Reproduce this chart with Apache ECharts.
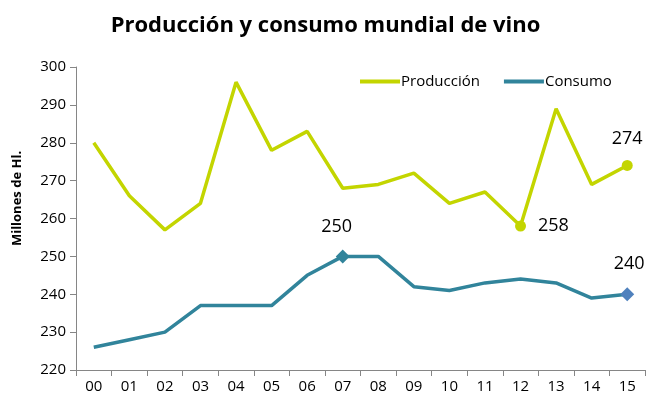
<!DOCTYPE html>
<html>
<head>
<meta charset="utf-8">
<script src="https://cdn.jsdelivr.net/npm/echarts@6/dist/echarts.min.js"></script>
<style>
    html, body { margin: 0; padding: 0; background: #fff; }
    #chart { width: 651px; height: 401px; }
</style>
</head>
<body>
<div id="chart"></div>
<script>
// 数据
var years = ['00', '01', '02', '03', '04', '05', '06', '07', '08', '09', '10', '11', '12', '13', '14', '15'];
var produccion = [280, 266, 257, 264, 296, 278, 283, 268, 269, 272, 264, 267, 258, 289, 269, 274];
var consumo = [226, 228, 230, 237, 237, 237, 245, 250, 250, 242, 241, 243, 244, 243, 239, 240];
var yTicks = [220, 230, 240, 250, 260, 270, 280, 290, 300];

(function() {
    var myChart = echarts.init(document.querySelector("#chart"));
    var font = "'Open Sans', 'Liberation Sans', sans-serif";
    var colProd = '#c3d500';
    var colCons = '#31849b';

    // 标记的点
    var prodMarks = [
        { idx: 12, pos: 'right' },
        { idx: 15, pos: 'top' }
    ];
    var consMarks = [
        { idx: 7, pos: 'top', color: colCons, dx: -6 },
        { idx: 15, pos: 'top', color: '#4f81bd', dx: 2 }
    ];

    var prodData = produccion.map(function(v, i) {
        var m = prodMarks.filter(function(p) { return p.idx === i; })[0];
        if (!m) return v;
        return {
            value: v,
            symbol: 'circle',
            symbolSize: 11,
            itemStyle: { color: colProd },
            label: { show: true, position: m.pos, distance: 12 }
        };
    });
    var consData = consumo.map(function(v, i) {
        var m = consMarks.filter(function(p) { return p.idx === i; })[0];
        if (!m) return v;
        return {
            value: v,
            symbol: 'diamond',
            symbolSize: 14,
            itemStyle: { color: m.color },
            label: { show: true, position: m.pos, distance: 14, offset: [m.dx, 0] }
        };
    });

    var option = {
        animation: false,
        title: {
            text: 'Producción y consumo mundial de vino',
            left: 'center',
            top: 10,
            textStyle: { fontFamily: font, fontSize: 22, fontWeight: 'bold', color: '#000' }
        },
        legend: {
            top: 69,
            left: 355,
            itemWidth: 40,
            itemHeight: 4,
            itemGap: 24,
            icon: 'rect',
            textStyle: { fontFamily: font, fontSize: 15, color: '#000', padding: [0, 0, 0, -4] },
            data: ['Producción', 'Consumo']
        },
        grid: {
            left: 76,
            right: 6,
            top: 67,
            bottom: 31
        },
        xAxis: {
            type: 'category',
            data: years,
            boundaryGap: true,
            axisLine: { lineStyle: { color: '#868686', width: 1 } },
            axisTick: { show: true, length: 6, lineStyle: { color: '#868686' } },
            axisLabel: { fontFamily: font, fontSize: 15, color: '#000', margin: 9 }
        },
        yAxis: {
            type: 'value',
            min: yTicks[0],
            max: yTicks[yTicks.length - 1],
            interval: 10,
            name: 'Millones de Hl.',
            nameLocation: 'middle',
            nameGap: 52,
            nameTextStyle: { fontFamily: font, fontSize: 13, fontWeight: 'bold', color: '#000', padding: [0, 0, 0, 40] },
            axisLine: { show: true, lineStyle: { color: '#868686', width: 1 } },
            axisTick: { show: true, length: 6, lineStyle: { color: '#868686' } },
            axisLabel: { fontFamily: font, fontSize: 15, color: '#000', margin: 10 },
            splitLine: { show: false }
        },
        series: [{
                name: 'Producción',
                type: 'line',
                data: prodData,
                color: colProd,
                lineStyle: { width: 3.5, color: colProd },
                showSymbol: true,
                symbol: 'none',
                label: { fontFamily: font, fontSize: 18, color: '#000' },
                z: 3
            },
            {
                name: 'Consumo',
                type: 'line',
                data: consData,
                color: colCons,
                lineStyle: { width: 3.5, color: colCons },
                showSymbol: true,
                symbol: 'none',
                label: { fontFamily: font, fontSize: 18, color: '#000' },
                z: 3
            }
        ]
    };
    myChart.setOption(option);
    window.addEventListener("resize", function() {
        myChart.resize();
    });
})();
</script>
</body>
</html>
